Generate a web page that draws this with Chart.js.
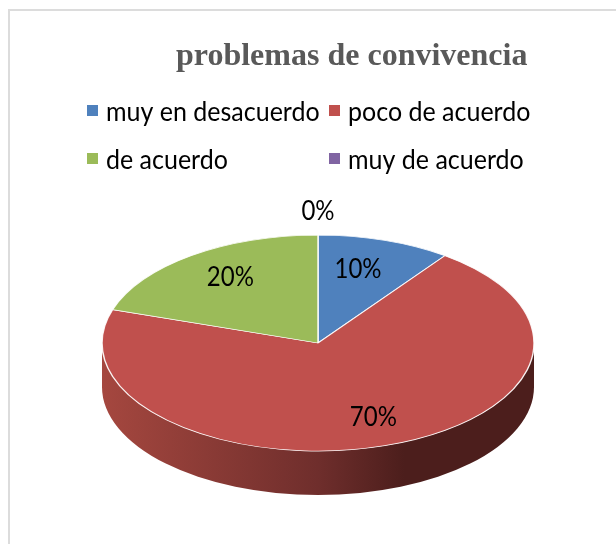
<!DOCTYPE html>
<html><head><meta charset="utf-8">
<style>html,body{margin:0;padding:0;background:#fff}canvas{display:block}</style>
<script src="https://cdn.jsdelivr.net/npm/chart.js@4"></script>
</head><body>
<div style="position:relative;width:616px;height:544px"><canvas id="c" width="616" height="544"></canvas></div>
<script>
const titleText = "problemas de convivencia";
const categories = ["muy en desacuerdo", "poco de acuerdo", "de acuerdo", "muy de acuerdo"];
const shares = [10, 70, 20, 0];
const colors = ["#4f81bd", "#c0504d", "#9bbb59", "#8064a2"];
const sideStops = [
  [0, "#a5473f"], [0.5, "#6f2e2c"], [0.7, "#4c1e1c"], [1, "#4c1e1c"]
];
const labelFactors = [[0.6, 0.72], [0.83, 0.73], [0.69, 0.75], [0, 1.22]];
const tilt = 0.5, depth = 44;
const legendCells = [[87, 111], [329, 111], [87, 159], [329, 159]];

function tallText(c, text, x, y, stretch) {
  c.save();
  c.translate(x, y); c.scale(1, stretch);
  c.fillText(text, 0, 0);
  c.restore();
}

const skin = {
  id: "skin",
  beforeDraw(chart) {
    const c = chart.ctx;
    c.save();
    c.fillStyle = "#fff"; c.fillRect(0, 0, chart.width, chart.height);
    c.fillStyle = "#dcdcdc";
    c.fillRect(8, 9, 2, 535);
    c.fillRect(8, 9, 608, 2);
    c.fillStyle = "#595959"; c.font = "bold 32px 'Liberation Serif'";
    c.textAlign = "left"; c.textBaseline = "alphabetic";
    c.fillText(titleText, 176, 65);
    c.font = "25px Lato";
    categories.forEach((t, i) => {
      const [x, y] = legendCells[i];
      c.fillStyle = colors[i]; c.fillRect(x, y - 6, 11, 11);
      c.fillStyle = "#000"; c.textBaseline = "middle";
      tallText(c, t, x + 19, y + 1, 1.08);
    });
    c.restore();
  },
  beforeDatasetDraw(chart) {
    const c = chart.ctx, arcs = chart.getDatasetMeta(0).data;
    const {x: cx, y: cy, outerRadius: r} = arcs[0];
    c.save();
    const g = c.createLinearGradient(cx - r, 0, cx + r, 0);
    sideStops.forEach(s => g.addColorStop(s[0], s[1]));
    c.fillStyle = g;
    arcs.forEach(a => {
      const a0 = Math.max(a.startAngle, 0), a1 = Math.min(a.endAngle, Math.PI);
      if (a1 <= a0) return;
      c.beginPath();
      c.ellipse(cx, cy, r, r * tilt, 0, a0, a1);
      c.ellipse(cx, cy + depth, r, r * tilt, 0, a1, a0, true);
      c.closePath(); c.fill();
    });
    c.restore();
    c.save();
    c.translate(cx, cy); c.scale(1, tilt); c.translate(-cx, -cy);
  },
  afterDatasetDraw(chart) {
    chart.ctx.restore();
  },
  afterDraw(chart) {
    const c = chart.ctx, arcs = chart.getDatasetMeta(0).data;
    c.save();
    c.fillStyle = "#000"; c.font = "24px Lato";
    c.textAlign = "center"; c.textBaseline = "middle";
    arcs.forEach((a, i) => {
      const mid = (a.startAngle + a.endAngle) / 2;
      const x = a.x + Math.cos(mid) * a.outerRadius * labelFactors[i][0];
      const y = a.y + Math.sin(mid) * a.outerRadius * tilt * labelFactors[i][1];
      tallText(c, shares[i] + "%", x, y, 1.1);
    });
    c.restore();
  }
};

new Chart(document.getElementById("c"), {
  type: "pie",
  data: { labels: categories, datasets: [{
    data: shares, backgroundColor: colors,
    borderColor: "rgba(255,255,255,0.9)", borderWidth: 1.5, radius: 216
  }]},
  options: {
    responsive: false, animation: false,
    layout: { padding: { left: 20, top: 142, right: 0, bottom: 0 } },
    plugins: { legend: { display: false }, title: { display: false }, tooltip: { enabled: false } }
  },
  plugins: [skin]
});
</script>
</body></html>
